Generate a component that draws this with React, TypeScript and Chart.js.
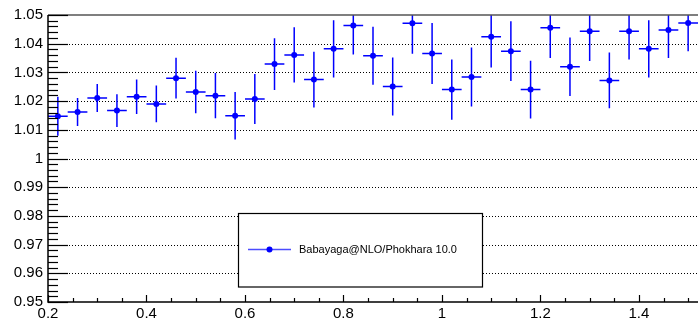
import React, { useEffect, useRef } from "react";
import { Chart, registerables } from "chart.js";

Chart.register(...registerables);

const xValues = [0.22, 0.26, 0.30, 0.34, 0.38, 0.42, 0.46, 0.50, 0.54, 0.58, 0.62, 0.66, 0.70, 0.74, 0.78, 0.82, 0.86, 0.90, 0.94, 0.98, 1.02, 1.06, 1.10, 1.14, 1.18, 1.22, 1.26, 1.30, 1.34, 1.38, 1.42, 1.46, 1.50];
const yValues = [1.0147, 1.0162, 1.0211, 1.0167, 1.0215, 1.0190, 1.0280, 1.0232, 1.0219, 1.0149, 1.0207, 1.0329, 1.0361, 1.0275, 1.0382, 1.0463, 1.0358, 1.0251, 1.0471, 1.0366, 1.0240, 1.0284, 1.0424, 1.0374, 1.0240, 1.0456, 1.0320, 1.0443, 1.0272, 1.0443, 1.0382, 1.0448, 1.0472];
const yErrors = [0.0068, 0.0049, 0.0049, 0.0057, 0.0060, 0.0064, 0.0071, 0.0074, 0.0079, 0.0083, 0.0087, 0.0090, 0.0096, 0.0097, 0.0100, 0.0101, 0.0101, 0.0101, 0.0106, 0.0106, 0.0105, 0.0103, 0.0107, 0.0104, 0.0101, 0.0106, 0.0102, 0.0103, 0.0097, 0.0098, 0.0100, 0.0098, 0.0098];
const xHalfWidth = 0.02;
const seriesLabel = "Babayaga@NLO/Phokhara 10.0";

const xMin = 0.2;
const xMax = 1.52;
const yMin = 0.95;
const yMax = 1.05;
const yMajorStep = 0.01;
const yMinorStep = 0.002;
const xMajorStep = 0.2;
const xMinorStep = 0.05;

const FONT = "'Liberation Sans', Arial, Helvetica, sans-serif";
const BLUE = "#0000ff";

const rootPlugin = {
  id: "rootStyle",
  beforeDatasetsDraw(chart: any) {
    const { ctx, chartArea } = chart;
    const xs = chart.scales.x;
    const ys = chart.scales.y;
    ctx.save();
    // dotted horizontal grid
    ctx.strokeStyle = "#000";
    ctx.lineWidth = 1;
    ctx.setLineDash([1, 2]);
    const nMajor = Math.round((yMax - yMin) / yMajorStep);
    for (let i = 1; i < nMajor; i++) {
      const v = yMin + i * yMajorStep;
      const py = Math.round(ys.getPixelForValue(v)) + 0.5;
      ctx.beginPath();
      ctx.moveTo(chartArea.left, py);
      ctx.lineTo(chartArea.right, py);
      ctx.stroke();
    }
    ctx.setLineDash([]);
    // error bars
    ctx.beginPath();
    ctx.rect(chartArea.left, chartArea.top, chartArea.right - chartArea.left, chartArea.bottom - chartArea.top);
    ctx.clip();
    ctx.strokeStyle = BLUE;
    ctx.lineWidth = 1.5;
    xValues.forEach((x, i) => {
      const px = xs.getPixelForValue(x);
      const py = ys.getPixelForValue(yValues[i]);
      const pl = xs.getPixelForValue(x - xHalfWidth);
      const pr = xs.getPixelForValue(x + xHalfWidth);
      const pt = ys.getPixelForValue(yValues[i] + yErrors[i]);
      const pb = ys.getPixelForValue(yValues[i] - yErrors[i]);
      ctx.beginPath();
      ctx.moveTo(pl, py);
      ctx.lineTo(pr, py);
      ctx.moveTo(px, pt);
      ctx.lineTo(px, pb);
      ctx.stroke();
    });
    ctx.restore();
  },
  afterDatasetsDraw(chart: any) {
    const { ctx, chartArea } = chart;
    const xs = chart.scales.x;
    const ys = chart.scales.y;
    const L = chartArea.left;
    const B = chartArea.bottom;
    ctx.save();
    // top frame
    ctx.strokeStyle = "#555";
    ctx.lineWidth = 1.5;
    ctx.beginPath();
    ctx.moveTo(L, chartArea.top);
    ctx.lineTo(chartArea.right, chartArea.top);
    ctx.stroke();
    // axes
    ctx.strokeStyle = "#000";
    ctx.lineWidth = 1.5;
    ctx.beginPath();
    ctx.moveTo(L, chartArea.top);
    ctx.lineTo(L, B);
    ctx.lineTo(chartArea.right, B);
    ctx.stroke();
    // y ticks
    ctx.lineWidth = 1.2;
    const nY = Math.round((yMax - yMin) / yMinorStep);
    for (let i = 0; i <= nY; i++) {
      const v = yMin + i * yMinorStep;
      const major = i % 5 === 0;
      const py = Math.round(ys.getPixelForValue(v)) + 0.5;
      ctx.beginPath();
      ctx.moveTo(L, py);
      ctx.lineTo(L + (major ? 20 : 10), py);
      ctx.stroke();
    }
    // x ticks
    const nX = Math.round((xMax - xMin) / xMinorStep);
    for (let i = 0; i <= nX; i++) {
      const v = xMin + i * xMinorStep;
      const major = i % 4 === 0;
      const px = Math.round(xs.getPixelForValue(v)) + 0.5;
      ctx.beginPath();
      ctx.moveTo(px, B);
      ctx.lineTo(px, B - (major ? 7 : 4));
      ctx.stroke();
    }
    ctx.restore();
  },
  afterDraw(chart: any) {
    const { ctx } = chart;
    ctx.save();
    const bx = 238.5, by = 213.5, bw = 244, bh = 73.5;
    ctx.fillStyle = "#fff";
    ctx.fillRect(bx, by, bw, bh);
    ctx.strokeStyle = "#000";
    ctx.lineWidth = 1.2;
    ctx.strokeRect(bx, by, bw, bh);
    const ly = 249.5;
    ctx.strokeStyle = "rgba(0,0,255,0.7)";
    ctx.lineWidth = 1.6;
    ctx.beginPath();
    ctx.moveTo(248, ly);
    ctx.lineTo(291, ly);
    ctx.stroke();
    ctx.fillStyle = BLUE;
    ctx.beginPath();
    ctx.arc(269.5, ly, 3, 0, Math.PI * 2);
    ctx.fill();
    ctx.fillStyle = "#000";
    ctx.font = `11px ${FONT}`;
    ctx.textAlign = "left";
    ctx.textBaseline = "middle";
    ctx.fillText(chart.data.datasets[0].label, 299, ly);
    ctx.restore();
  },
};

const fmt = (v: number, d: number) => String(parseFloat(Number(v).toFixed(d)));

export default function App() {
  const ref = useRef<HTMLCanvasElement | null>(null);
  useEffect(() => {
    if (!ref.current) return;
    const chart = new Chart(ref.current, {
      type: "scatter",
      data: {
        datasets: [
          {
            label: seriesLabel,
            data: xValues.map((x, i) => ({ x, y: yValues[i] })),
            pointRadius: 3,
            pointHoverRadius: 3,
            pointBorderWidth: 0,
            backgroundColor: BLUE,
            borderColor: BLUE,
            showLine: false,
          },
        ],
      },
      options: {
        responsive: false,
        animation: false,
        devicePixelRatio: 1,
        layout: { padding: { left: 0, top: 15, right: 1, bottom: 0 } },
        plugins: { legend: { display: false }, tooltip: { enabled: false } },
        events: [],
        scales: {
          x: {
            type: "linear",
            min: xMin,
            max: xMax,
            grid: { display: false, drawTicks: false },
            border: { display: false },
            afterFit: (s: any) => { s.height = 18; },
            ticks: {
              stepSize: xMajorStep,
              includeBounds: false,
              autoSkip: false,
              maxRotation: 0,
              padding: 3,
              color: "#000",
              font: { family: FONT, size: 15 },
              callback: (v: any) => fmt(v, 1),
            },
          },
          y: {
            type: "linear",
            min: yMin,
            max: yMax,
            grid: { display: false, drawTicks: false },
            border: { display: false },
            afterFit: (s: any) => { s.width = 48; },
            ticks: {
              stepSize: yMajorStep,
              autoSkip: false,
              padding: 5,
              color: "#000",
              font: { family: FONT, size: 15 },
              callback: (v: any) => fmt(v, 2),
            },
          },
        },
      },
      plugins: [rootPlugin],
    } as any);
    return () => chart.destroy();
  }, []);
  return (
    <div style={{ position: "fixed", left: 0, top: 0, width: 699, height: 320, overflow: "hidden", background: "#fff" }}>
      <canvas ref={ref} width={701} height={320} style={{ display: "block", width: 701, height: 320 }} />
    </div>
  );
}
